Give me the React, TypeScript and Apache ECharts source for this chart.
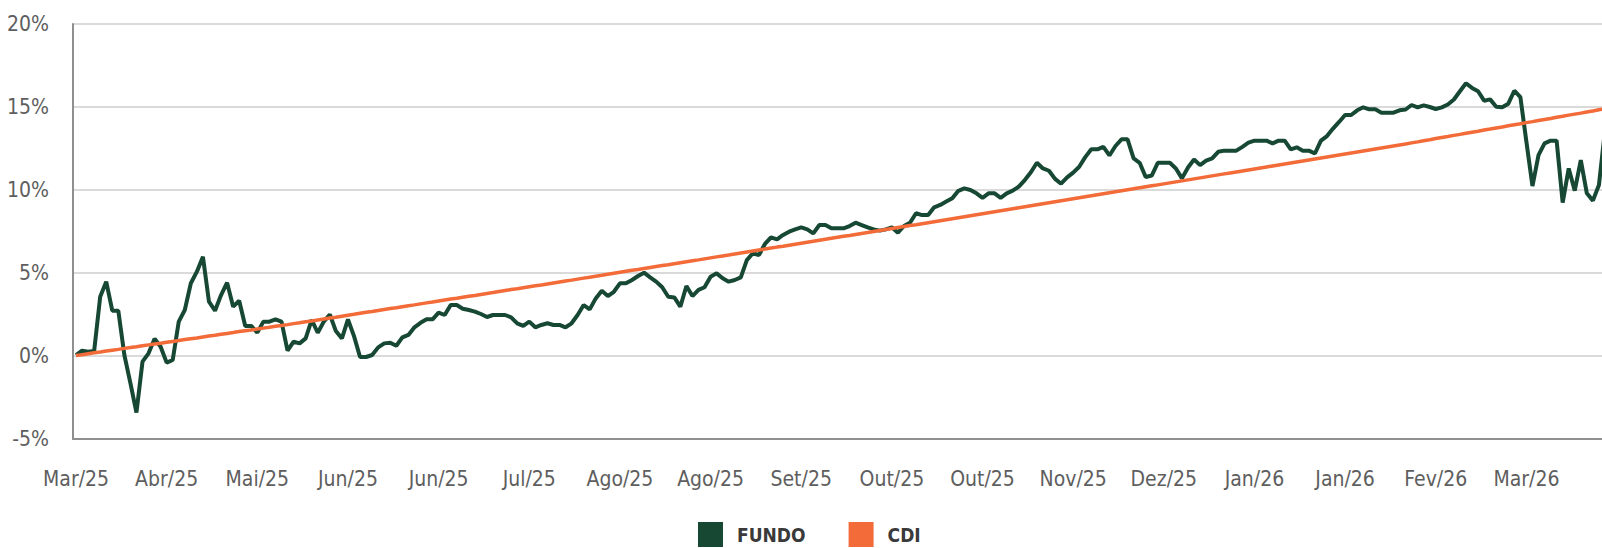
import React, { useEffect, useRef } from "react";
import * as echarts from "echarts";

const TICK_LABELS = [
  "Mar/25", "Abr/25", "Mai/25", "Jun/25", "Jun/25", "Jul/25", "Ago/25", "Ago/25",
  "Set/25", "Out/25", "Out/25", "Nov/25", "Dez/25", "Jan/26", "Jan/26", "Fev/26", "Mar/26",
];
const LABEL_STEP = 15;

const FUNDO = [
  0.06, 0.32, 0.26, 0.30, 3.57, 4.48, 2.73, 2.73, 0.06, -1.63,
  -3.41, -0.34, 0.16, 1.04, 0.56, -0.40, -0.24, 2.07, 2.77, 4.38,
  5.08, 5.98, 3.27, 2.73, 3.67, 4.42, 2.97, 3.33, 1.81, 1.81,
  1.41, 2.07, 2.07, 2.21, 2.07, 0.32, 0.86, 0.76, 1.06, 2.17,
  1.40, 2.07, 2.50, 1.50, 1.06, 2.20, 1.20, -0.06, -0.06, 0.06,
  0.52, 0.76, 0.80, 0.62, 1.12, 1.27, 1.73, 2.00, 2.21, 2.21,
  2.61, 2.47, 3.07, 3.07, 2.85, 2.77, 2.67, 2.53, 2.35, 2.47,
  2.47, 2.47, 2.33, 1.97, 1.81, 2.07, 1.73, 1.87, 1.97, 1.87,
  1.87, 1.73, 1.97, 2.47, 3.07, 2.81, 3.47, 3.93, 3.61, 3.87,
  4.38, 4.38, 4.58, 4.82, 5.02, 4.74, 4.48, 4.14, 3.57, 3.53,
  2.97, 4.22, 3.61, 3.98, 4.14, 4.78, 4.98, 4.68, 4.48, 4.58,
  4.74, 5.78, 6.19, 6.08, 6.75, 7.15, 7.03, 7.29, 7.49, 7.63,
  7.75, 7.63, 7.39, 7.89, 7.89, 7.69, 7.69, 7.69, 7.83, 8.03,
  7.89, 7.75, 7.63, 7.55, 7.63, 7.75, 7.43, 7.83, 8.03, 8.60,
  8.49, 8.49, 8.96, 9.10, 9.30, 9.50, 9.95, 10.10, 10.00, 9.80,
  9.53, 9.80, 9.80, 9.53, 9.80, 9.96, 10.20, 10.60, 11.07, 11.64,
  11.30, 11.16, 10.67, 10.38, 10.76, 11.05, 11.40, 11.98, 12.45, 12.45,
  12.60, 12.08, 12.65, 13.05, 13.05, 11.90, 11.64, 10.78, 10.87, 11.64,
  11.64, 11.64, 11.30, 10.70, 11.36, 11.84, 11.50, 11.77, 11.90, 12.30,
  12.37, 12.37, 12.37, 12.60, 12.85, 12.97, 12.97, 12.97, 12.81, 12.97,
  12.97, 12.45, 12.57, 12.37, 12.37, 12.20, 12.97, 13.25, 13.70, 14.10,
  14.52, 14.52, 14.80, 14.98, 14.86, 14.86, 14.66, 14.66, 14.66, 14.80,
  14.85, 15.12, 14.98, 15.10, 15.00, 14.88, 14.98, 15.15, 15.45, 15.95,
  16.43, 16.15, 15.95, 15.38, 15.46, 15.02, 14.98, 15.20, 15.98, 15.60,
  12.90, 10.24, 12.10, 12.81, 12.97, 12.97, 9.24, 11.30, 9.96, 11.80,
  9.80, 9.36, 10.30, 13.60,
];

const CDI = [
  0.03, 0.08, 0.14, 0.19, 0.24, 0.30, 0.35, 0.40, 0.46, 0.51,
  0.56, 0.62, 0.67, 0.72, 0.77, 0.83, 0.88, 0.93, 0.99, 1.04,
  1.09, 1.15, 1.20, 1.25, 1.31, 1.36, 1.41, 1.47, 1.52, 1.57,
  1.63, 1.68, 1.73, 1.79, 1.84, 1.89, 1.95, 2.00, 2.06, 2.11,
  2.17, 2.23, 2.29, 2.34, 2.40, 2.46, 2.51, 2.57, 2.63, 2.68,
  2.74, 2.80, 2.86, 2.91, 2.97, 3.03, 3.08, 3.14, 3.20, 3.25,
  3.31, 3.37, 3.43, 3.48, 3.54, 3.60, 3.65, 3.71, 3.77, 3.82,
  3.88, 3.94, 4.00, 4.05, 4.11, 4.17, 4.23, 4.28, 4.34, 4.40,
  4.46, 4.52, 4.57, 4.63, 4.69, 4.75, 4.81, 4.86, 4.92, 4.98,
  5.04, 5.10, 5.16, 5.21, 5.27, 5.33, 5.39, 5.45, 5.50, 5.56,
  5.62, 5.68, 5.74, 5.79, 5.85, 5.91, 5.97, 6.03, 6.08, 6.14,
  6.20, 6.26, 6.32, 6.38, 6.44, 6.50, 6.56, 6.61, 6.67, 6.73,
  6.79, 6.85, 6.91, 6.97, 7.03, 7.09, 7.15, 7.21, 7.26, 7.32,
  7.38, 7.44, 7.50, 7.56, 7.62, 7.68, 7.74, 7.80, 7.86, 7.91,
  7.97, 8.03, 8.09, 8.15, 8.21, 8.27, 8.33, 8.39, 8.45, 8.51,
  8.57, 8.63, 8.69, 8.75, 8.81, 8.87, 8.93, 8.99, 9.05, 9.11,
  9.17, 9.23, 9.29, 9.35, 9.41, 9.47, 9.53, 9.59, 9.65, 9.71,
  9.77, 9.83, 9.89, 9.95, 10.01, 10.07, 10.13, 10.19, 10.25, 10.31,
  10.37, 10.43, 10.49, 10.55, 10.61, 10.67, 10.73, 10.79, 10.85, 10.91,
  10.97, 11.03, 11.09, 11.15, 11.21, 11.27, 11.33, 11.39, 11.45, 11.51,
  11.57, 11.63, 11.69, 11.75, 11.81, 11.87, 11.93, 11.99, 12.05, 12.11,
  12.17, 12.23, 12.29, 12.35, 12.41, 12.47, 12.53, 12.59, 12.65, 12.71,
  12.77, 12.84, 12.90, 12.97, 13.03, 13.10, 13.16, 13.22, 13.29, 13.35,
  13.42, 13.48, 13.54, 13.61, 13.67, 13.74, 13.80, 13.87, 13.93, 13.99,
  14.06, 14.12, 14.19, 14.25, 14.31, 14.38, 14.44, 14.51, 14.57, 14.63,
  14.70, 14.76, 14.83, 14.89,
];

const CATEGORIES = FUNDO.map((_, i) =>
  i % LABEL_STEP === 0 ? TICK_LABELS[i / LABEL_STEP] ?? "" : ""
);

const FONT = "'DejaVu Sans Condensed', 'Liberation Sans Narrow', 'Noto Sans', sans-serif";
const GREEN = "#164834";
const ORANGE = "#F26B38";

export default function App() {
  const ref = useRef<HTMLDivElement>(null);
  useEffect(() => {
    const chart = echarts.init(ref.current!, null, { renderer: "svg" });
    chart.setOption({
      animation: false,
      backgroundColor: "#ffffff",
      grid: { left: 73, top: 24, bottom: 109, right: 12, containLabel: false },
      legend: {
        left: 698,
        top: 522,
        padding: 0,
        icon: "rect",
        itemWidth: 25,
        itemHeight: 25,
        itemGap: 43,
        textStyle: {
          fontFamily: FONT,
          fontSize: 19,
          fontWeight: "bold",
          color: "#3a3a3a",
          padding: [0, 0, 0, 9],
        },
        data: ["FUNDO", "CDI"],
      },
      xAxis: {
        type: "category",
        data: CATEGORIES,
        boundaryGap: true,
        axisLine: { show: true, onZero: false, lineStyle: { color: "#8f8f8f", width: 2 } },
        axisTick: { show: false },
        splitLine: { show: false },
        axisLabel: {
          interval: LABEL_STEP - 1,
          margin: 29,
          fontFamily: FONT,
          fontSize: 21,
          color: "#5e5e5e",
        },
      },
      yAxis: {
        type: "value",
        min: -5,
        max: 20,
        interval: 5,
        axisLine: { show: true, lineStyle: { color: "#8f8f8f", width: 2 } },
        axisTick: { show: false },
        splitLine: { show: true, lineStyle: { color: "#dadada", width: 2 } },
        axisLabel: {
          margin: 24,
          fontFamily: FONT,
          fontSize: 21,
          color: "#5e5e5e",
          formatter: (v: number) => `${v}%`,
        },
      },
      series: [
        {
          name: "FUNDO",
          type: "line",
          data: FUNDO,
          symbol: "none",
          color: GREEN,
          lineStyle: { color: GREEN, width: 4 },
        },
        {
          name: "CDI",
          type: "line",
          data: CDI,
          symbol: "none",
          color: ORANGE,
          lineStyle: { color: ORANGE, width: 3.5 },
        },
      ],
    });
    return () => chart.dispose();
  }, []);
  return (
    <div
      style={{
        position: "fixed",
        left: 0,
        top: 0,
        width: 1602,
        height: 548,
        overflow: "hidden",
        background: "#fff",
      }}
    >
      <div ref={ref} style={{ width: 1620, height: 548 }} />
    </div>
  );
}
